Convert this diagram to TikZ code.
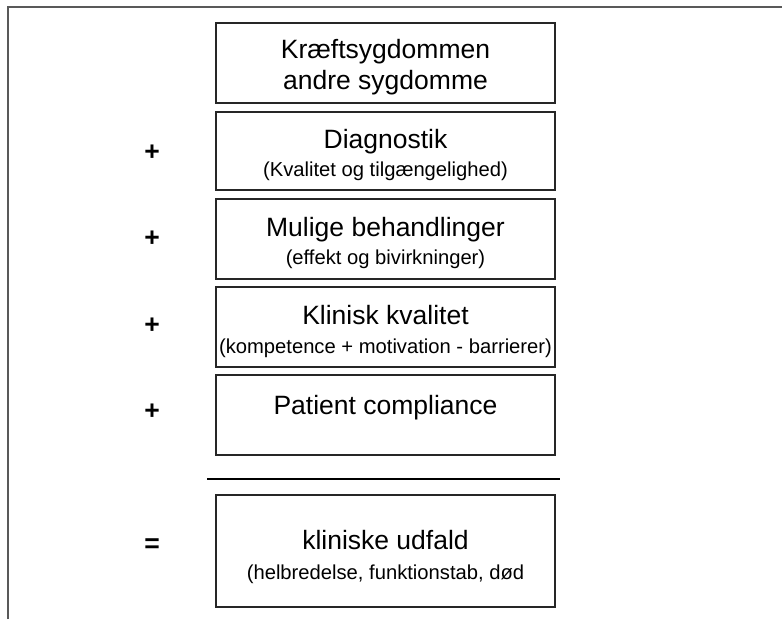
\documentclass[tikz,border=0pt]{standalone}
\usepackage{fontspec}
\setmainfont{Liberation Sans}
\newcommand\mainsz{\fontsize{26.5}{31}\selectfont}
\newcommand\subsz{\fontsize{20.2}{24}\selectfont}
\tikzset{
  box/.style={draw=black!85, line width=1.3pt, minimum width=339pt, inner sep=0pt},
  maintxt/.style={anchor=base, inner sep=0pt, font=\mainsz},
  subtxt/.style={anchor=base, inner sep=0pt, font=\subsz},
  sign/.style={inner sep=0pt, font=\mainsz\bfseries},
  frame/.style={draw=black!65, line width=2pt},
  rule/.style={draw=black, line width=1.2pt}
}
\begin{document}
\begin{tikzpicture}[x=1pt,y=-1pt]
\useasboundingbox (0,0) rectangle (782,619);
% outer frame (cropped)
\coordinate (fa) at (8,619);
\coordinate (fb) at (8,7);
\coordinate (fc) at (782,7);
\draw[frame] (fa) -- (fb) -- (fc);
% boxes
\node[box, minimum height=80pt] (b1) at (385.5,63) {};
\node[box, minimum height=78pt] (b2) at (385.5,151) {};
\node[box, minimum height=80pt] (b3) at (385.5,239) {};
\node[box, minimum height=80pt] (b4) at (385.5,327) {};
\node[box, minimum height=80pt] (b5) at (385.5,415) {};
\node[box, minimum height=112pt] (b6) at (385.5,551) {};
% texts
\node[maintxt] (t1a) at (385.5,58) {Kræftsygdommen};
\node[maintxt] (t1b) at (385.5,89) {andre sygdomme};
\node[maintxt] (t2a) at (385.5,148) {Diagnostik};
\node[subtxt]  (t2b) at (385.5,176) {(Kvalitet og tilgængelighed)};
\node[maintxt] (t3a) at (385.5,236) {Mulige behandlinger};
\node[subtxt]  (t3b) at (385.5,264) {(effekt og bivirkninger)};
\node[maintxt] (t4a) at (385.5,324) {Klinisk kvalitet};
\node[subtxt]  (t4b) at (385.5,353) {(kompetence + motivation - barrierer)};
\node[maintxt] (t5a) at (385.5,414) {Patient compliance};
\node[maintxt] (t6a) at (385.5,549) {kliniske udfald};
\node[subtxt]  (t6b) at (385.5,579) {(helbredelse, funktionstab, død};
% signs
\node[sign] (p2) at (152,153) {+};
\node[sign] (p3) at (152,239) {+};
\node[sign] (p4) at (152,326) {+};
\node[sign] (p5) at (152,412) {+};
\node[sign] (eq) at (152,546) {=};
% sum line
\coordinate (la) at (207,479);
\coordinate (lb) at (560,479);
\draw[rule] (la) -- (lb);
\end{tikzpicture}
\end{document}
